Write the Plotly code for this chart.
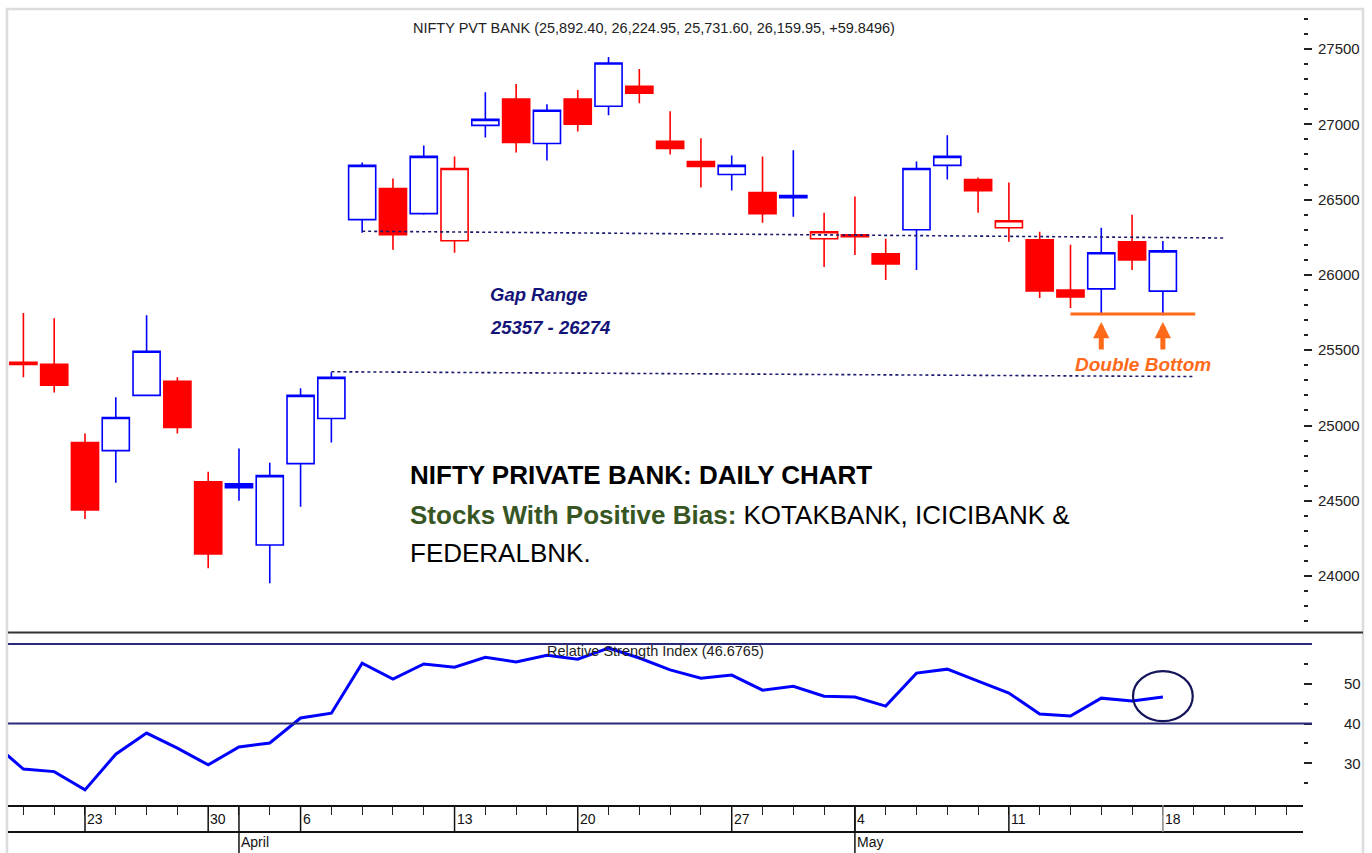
import plotly.graph_objects as go

# ---------------- data ----------------
open_ = [25420, 25407, 24887, 24833, 25200, 25293, 24627, 24613, 24207, 24747,
         25047, 26367, 26573, 26407, 26227, 26993, 27167, 26873, 27167, 27120,
         27253, 26887, 26753, 26667, 26547, 26527, 26240, 26267, 26140, 26300,
         26727, 26633, 26313, 26233, 25900, 25907, 26220, 25892.40]
high_ = [25747, 25713, 24947, 25187, 25733, 25320, 24693, 24847, 24753, 25247,
         25353, 26747, 26640, 26860, 26787, 27213, 27267, 27133, 27227, 27447,
         27367, 27087, 26907, 26793, 26787, 26827, 26413, 26520, 26240, 26753,
         26927, 26647, 26613, 26287, 26200, 26313, 26400, 26224.95]
low_ = [25320, 25220, 24380, 24620, 25195, 24947, 24053, 24500, 23953, 24460,
        24887, 26280, 26167, 26400, 26147, 26913, 26813, 26760, 26953, 27060,
        27140, 26800, 26580, 26560, 26347, 26387, 26053, 26133, 25967, 26033,
        26633, 26413, 26220, 25847, 25780, 25740, 26033, 25731.60]
close_ = [25405, 25267, 24440, 25053, 25493, 24987, 24147, 24587, 24667, 25200,
          25320, 26727, 26267, 26787, 26707, 27033, 26880, 27093, 27000, 27407,
          27207, 26840, 26720, 26727, 26407, 26513, 26287, 26253, 26073, 26707,
          26787, 26560, 26360, 25893, 25853, 26147, 26100.10, 26159.95]
last_change = 59.8496

# RSI (first value = day before the first visible candle)
rsi_x = list(range(-1, 38))
rsi = [35.2, 28.55, 27.9, 23.3, 32.3, 37.6, 33.8, 29.6, 34.1, 35.1,
       41.4, 42.6, 55.2, 51.2, 55.0, 54.2, 56.7, 55.5, 57.2, 56.2,
       59.0, 56.5, 53.5, 51.4, 52.2, 48.4, 49.4, 46.9, 46.7, 44.4,
       52.7, 53.7, 50.7, 47.7, 42.4, 41.9, 46.4, 45.7, 46.6765]
rsi_bands = [60, 40]

# x-axis (trading-day index) labels
n_slots = 42
day_tick_idx = [2, 6, 9, 14, 18, 23, 27, 32, 37]
day_tick_lbl = ["23", "30", "6", "13", "20", "27", "4", "11", "18"]
month_tick_idx = [7, 27]
month_tick_lbl = ["April", "May"]

# study lines
gap_upper = ([11, 39], [26290, 26245])
gap_lower = ([10, 38.05], [25357, 25325])
gap_range = (25357, 26274)
double_bottom = ([34, 38.05], [25740, 25740])
bottom_idx = [35, 37]

# ---------------- styling ----------------
BLUE = "#0000FF"
RED = "#FF0000"
NAVY = "#1B1B6E"
ORANGE = "#FF6A1A"
SANS = "Liberation Sans, Arial, sans-serif"

W, H = 1372, 853
ML, MR, MT, MB = 8, 69, 10, 48
PH = H - MT - MB            # plot-area height in px
PW = W - ML - MR


def py(ypix):               # pixel (from top) -> paper y
    return (H - MB - ypix) / PH


def px(xpix):               # pixel (from left) -> paper x
    return (xpix - ML) / PW


up = [False] + [close_[i] >= close_[i - 1] for i in range(1, len(close_))]

fig = go.Figure()
for is_up, col in [(True, BLUE), (False, RED)]:
    idx = [i for i in range(len(close_)) if up[i] == is_up]
    fig.add_trace(go.Candlestick(
        x=idx,
        open=[open_[i] for i in idx], high=[high_[i] for i in idx],
        low=[low_[i] for i in idx], close=[close_[i] for i in idx],
        increasing=dict(line=dict(color=col, width=1.6), fillcolor="white"),
        decreasing=dict(line=dict(color=col, width=1.6), fillcolor=col),
        whiskerwidth=0, xaxis="x", yaxis="y", showlegend=False,
        hoverinfo="skip"))

# gap dotted lines
for xs, ys in [gap_upper, gap_lower]:
    fig.add_trace(go.Scatter(x=xs, y=ys, mode="lines",
                             line=dict(color=NAVY, width=1.6, dash="3px,3px"),
                             xaxis="x", yaxis="y", showlegend=False, hoverinfo="skip"))
# double bottom line
fig.add_trace(go.Scatter(x=double_bottom[0], y=double_bottom[1], mode="lines",
                         line=dict(color=ORANGE, width=3),
                         xaxis="x", yaxis="y", showlegend=False, hoverinfo="skip"))

# RSI
fig.add_trace(go.Scatter(x=rsi_x, y=rsi, mode="lines",
                         line=dict(color=BLUE, width=3),
                         xaxis="x2", yaxis="y2", showlegend=False, hoverinfo="skip"))

xr = [-0.5, 41.55]
main_bottom = py(632)
rsi_top = py(633)

fig.update_layout(
    width=W, height=H, margin=dict(l=ML, r=MR, t=MT, b=MB),
    paper_bgcolor="white", plot_bgcolor="white",
    boxgap=0.12, boxgroupgap=0,
    xaxis=dict(domain=[0, 1], anchor="y", range=xr, showticklabels=False,
               showgrid=False, zeroline=False, showline=False, ticks="",
               rangeslider=dict(visible=False)),
    yaxis=dict(domain=[main_bottom, 1], anchor="x", side="right",
               range=[23629, 27759], tick0=0, dtick=500, tickformat="d",
               ticks="outside", ticklen=8, tickwidth=1.5, tickcolor="#222",
               minor=dict(dtick=100, ticks="outside", ticklen=4, tickwidth=1.5,
                          tickcolor="#222", showgrid=False),
               showgrid=False, zeroline=False, showline=False,
               ticklabelstandoff=3,
               tickfont=dict(family=SANS, size=15, color="#222")),
    xaxis2=dict(domain=[0, 1], anchor="y2", range=xr, showticklabels=False,
                tickmode="array", tickvals=list(range(n_slots)),
                ticks="outside", ticklen=8, tickwidth=1, tickcolor="#222",
                showgrid=False, zeroline=False, showline=True,
                linecolor="#111", linewidth=2),
    yaxis2=dict(domain=[0, rsi_top], anchor="x2", side="right",
                range=[19.5, 62.8], tickmode="array", tickvals=[30, 40, 50],
                ticks="outside", ticklen=8, tickwidth=1.5, tickcolor="#222",
                minor=dict(tickmode="array", tickvals=[25, 35, 45, 55],
                           ticks="outside", ticklen=4, tickwidth=1.5,
                           tickcolor="#222", showgrid=False),
                ticklabelstandoff=29,
                showgrid=False, zeroline=False, showline=False,
                tickfont=dict(family=SANS, size=15, color="#222")),
)

shapes = []
# outer light frame
shapes.append(dict(type="rect", xref="paper", yref="paper",
                   x0=px(7), x1=px(1363), y0=py(860), y1=py(9),
                   line=dict(color="#DCDCDC", width=2.5), layer="below"))
# separator between panels
shapes.append(dict(type="line", xref="paper", yref="paper",
                   x0=px(8), x1=px(1363), y0=py(632.5), y1=py(632.5),
                   line=dict(color="#333", width=2)))
# RSI bands
for b in rsi_bands:
    shapes.append(dict(type="line", xref="paper", yref="y2",
                       x0=0, x1=px(1312), y0=b, y1=b,
                       line=dict(color="#2A2A7A", width=2)))
# x-axis band bottom line
shapes.append(dict(type="line", xref="paper", yref="paper",
                   x0=0, x1=1, y0=py(832), y1=py(832),
                   line=dict(color="#111", width=2)))
# major day ticks
for i in day_tick_idx:
    shapes.append(dict(type="line", xref="x2", yref="paper",
                       x0=i, x1=i, y0=0, y1=py(832),
                       line=dict(color="#888" if i == day_tick_idx[-1] else "#111",
                                 width=1.5)))
for i in month_tick_idx:
    shapes.append(dict(type="line", xref="x2", yref="paper",
                       x0=i, x1=i, y0=0, y1=py(860),
                       line=dict(color="#111", width=1.5)))
# RSI circle
shapes.append(dict(type="circle", xref="x2", yref="y2",
                   x0=36.03, x1=37.97, y0=40.6, y1=53.2,
                   line=dict(color="#14145A", width=2.2)))

ann = []
o, h, l, c = open_[-1], high_[-1], low_[-1], close_[-1]
ann.append(dict(xref="paper", yref="paper", x=px(654), y=py(28),
                text=f"NIFTY PVT BANK ({o:,.2f}, {h:,.2f}, {l:,.2f}, {c:,.2f}, {last_change:+.4f})",
                showarrow=False, xanchor="center", yanchor="middle",
                font=dict(family=SANS, size=14.5, color="#222")))
ann.append(dict(xref="paper", yref="paper", x=px(655), y=py(651),
                text=f"Relative Strength Index ({rsi[-1]:.4f})",
                showarrow=False, xanchor="center", yanchor="middle",
                font=dict(family=SANS, size=14.5, color="#222")))
for i, t in zip(day_tick_idx, day_tick_lbl):
    ann.append(dict(xref="x2", yref="paper", x=i, y=py(819), text=t,
                    showarrow=False, xanchor="left", yanchor="middle", xshift=0,
                    font=dict(family=SANS, size=14, color="#111")))
for i, t in zip(month_tick_idx, month_tick_lbl):
    ann.append(dict(xref="x2", yref="paper", x=i, y=py(842), text=t,
                    showarrow=False, xanchor="left", yanchor="middle", xshift=0,
                    font=dict(family=SANS, size=14, color="#111")))
# Gap range labels
ann.append(dict(xref="x", yref="y", x=15.1, y=25867, text="<b><i>Gap Range</i></b>",
                showarrow=False, xanchor="left", yanchor="middle",
                font=dict(family=SANS, size=18.5, color="#141478")))
ann.append(dict(xref="x", yref="y", x=15.1, y=25654,
                text=f"<b><i>{gap_range[0]} - {gap_range[1]}</i></b>",
                showarrow=False, xanchor="left", yanchor="middle",
                font=dict(family=SANS, size=18.5, color="#141478")))
# double bottom
for i in bottom_idx:
    ann.append(dict(xref="x", yref="y", x=i, y=25687, ax=0, ay=29, text="",
                    showarrow=True, arrowhead=2, arrowsize=0.65, arrowwidth=5,
                    arrowcolor=ORANGE))
ann.append(dict(xref="x", yref="y", x=36.36, y=25408, text="<b><i>Double Bottom</i></b>",
                showarrow=False, xanchor="center", yanchor="middle",
                font=dict(family=SANS, size=19, color=ORANGE)))
# commentary text block
ann.append(dict(xref="paper", yref="paper", x=px(408), y=py(475),
                text="<b>NIFTY PRIVATE BANK: DAILY CHART</b>",
                showarrow=False, xanchor="left", yanchor="middle",
                font=dict(family=SANS, size=26, color="#000")))
ann.append(dict(xref="paper", yref="paper", x=px(408), y=py(515),
                text="<b><span style='color:#375623'>Stocks With Positive Bias:</span></b> KOTAKBANK, ICICIBANK &amp;",
                showarrow=False, xanchor="left", yanchor="middle",
                font=dict(family=SANS, size=26, color="#000")))
ann.append(dict(xref="paper", yref="paper", x=px(408), y=py(553),
                text="FEDERALBNK.",
                showarrow=False, xanchor="left", yanchor="middle",
                font=dict(family=SANS, size=26, color="#000")))

fig.update_layout(shapes=shapes, annotations=ann)
fig.write_html("out.html", config={"displayModeBar": False},
               post_script="document.body.style.margin='0px';")
